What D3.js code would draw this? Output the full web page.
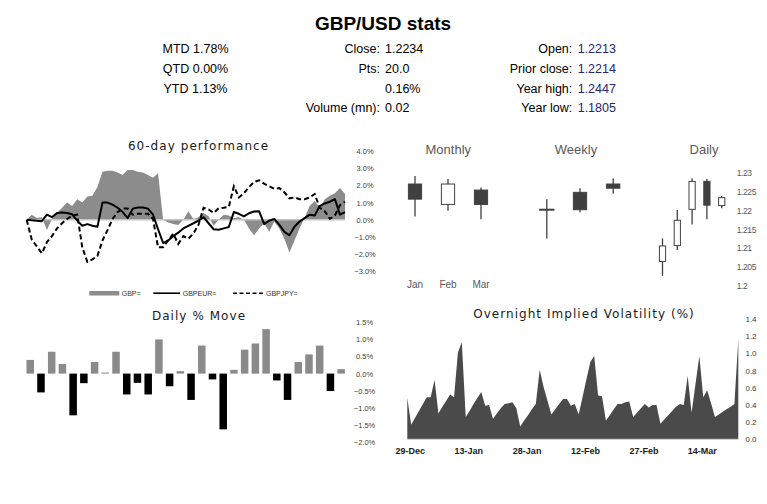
<!DOCTYPE html>
<html>
<head>
<meta charset="utf-8">
<script src="https://cdn.jsdelivr.net/npm/d3@7/dist/d3.min.js"></script>
<style>
  html, body { margin: 0; padding: 0; background: #ffffff; }
  svg { display: block; }
</style>
</head>
<body>
<svg id="chart" width="767" height="504"></svg>
<script>
// ---------------- DATA ----------------
const statsCol1 = ["MTD 1.78%", "QTD 0.00%", "YTD 1.13%"];
const statsCol2Labels = ["Close:", "Pts:", "", "Volume (mn):"];
const statsCol2Values = ["1.2234", "20.0", "0.16%", "0.02"];
const statsCol3Labels = ["Open:", "Prior close:", "Year high:", "Year low:"];
const statsCol3Values = ["1.2213", "1.2214", "1.2447", "1.1805"];

// 60-day performance (%)
const perfGBP = [0, 0.3, 0.1, 0.15, -0.6, 0.05, 0.4, 0.7, 1.0, 0.8, 1.2, 1.0, 1.35, 1.4, 1.9, 2.8,
  2.85, 2.85, 2.75, 2.6, 2.9, 2.9, 2.8, 2.75, 2.6, 2.45, 2.7, 0.0, -0.15, -0.25, -0.3, 0,
  0.5, 0.05, 0.15, 0.4, 0.2, -0.35, 0, 0.3, 0.25, 0.1, 0.15, 0, -0.5, -0.9, -0.5, -0.2,
  -0.7, -0.1, -0.5, -1.1, -1.9, -1.2, -0.5, 0.1, 0.8, 1.1, 0.7, 1.2, 1.4, 1.55, 1.85, 1.5];
const perfEUR = [0, -0.03, -0.05, -0.08, 0.3, 0.15, 0.4, 0.42, 0.4, 0.32, -0.05, -0.35, -0.25, -0.35, -0.4, 1.0,
  1.0, 0.88, 0.7, 0.45, 0.1, 0.65, 0.72, 0.72, 0.65, 0.3, -0.55, -1.35, -1.2, -0.95, -0.75, -0.5,
  -0.35, -0.2, -0.05, 0.15, -0.2, -0.55, -0.58, -0.5, -0.42, 0.45, 0.35, 0.2, 0.38, 0.48, 0.5, -0.25,
  -0.05, 0.05, -0.3, -0.7, -0.9, -0.4, -0.1, 0.1, 0.3, 0.25, 0.8, 0.95, 1.05, 1.2, 0.3, 0.45];
const perfJPY = [0, -1.15, -1.55, -1.95, -1.3, -0.95, -0.5, -0.2, 0.05, 0.25, 0.3, -1.6, -2.45, -2.3, -2.1, -1.2,
  -0.6, 0.05, 0.45, 0.65, 0.65, 0.3, 0.35, 0.35, 0.35, 0.05, -1.6, -1.6, -1.2, -0.8, -1.4, -0.95,
  -1.1, -0.8, -0.3, 0.7, 0.6, 0.4, 0.67, 0.7, 0.75, 1.95, 1.3, 1.55, 1.9, 2.2, 2.3, 2.1,
  1.95, 1.8, 1.85, 1.6, 1.25, 1.3, 1.2, 1.2, 1.3, 1.5, 0.7, 0.5, 0.05, 0.25, 0.85, 1.05];
const perfTicks = [-3, -2, -1, 0, 1, 2, 3, 4];
const perfLegend = ["GBP=", "GBPEUR=", "GBPJPY="];

// Daily % move
const dailyMove = [0.40, -0.55, 0.64, 0.28, -1.22, -0.28, 0.34, 0.03, 0.64, -0.61,
  -0.27, -0.61, 1.00, -0.37, 0.07, -0.77, 0.82, -0.17, -1.63, 0.11,
  0.70, 0.88, 1.30, -0.20, -0.77, 0.34, 0.56, 0.82, -0.51, 0.13];
const moveTicks = [-2, -1.5, -1, -0.5, 0, 0.5, 1, 1.5];

// Overnight implied volatility, daily from 29-Dec
const volStart = "2022-12-29";
const volValues = [0.48, 0.17, 0.25, 0.33, 0.41, 0.49, 0.49, 0.69, 0.30, 0.38,
  0.45, 0.52, 0.49, 1.01, 1.13, 0.26, 0.33, 0.41, 0.48, 0.55,
  0.39, 0.40, 0.24, 0.30, 0.36, 0.41, 0.42, 0.43, 0.36, 0.15,
  0.22, 0.28, 0.35, 0.41, 0.81, 0.61, 0.45, 0.29, 0.35, 0.41,
  0.47, 0.47, 0.39, 0.41, 0.29, 0.49, 0.70, 0.90, 0.97, 0.51,
  0.50, 0.22, 0.28, 0.35, 0.41, 0.41, 0.43, 0.44, 0.26, 0.31,
  0.36, 0.41, 0.37, 0.40, 0.40, 0.18, 0.23, 0.28, 0.33, 0.38,
  0.41, 0.40, 0.74, 0.31, 0.64, 0.97, 0.49, 0.57, 0.42, 0.26,
  0.29, 0.32, 0.35, 0.38, 0.41, 1.16];
const volTickDates = ["2022-12-29", "2023-01-13", "2023-01-28", "2023-02-12", "2023-02-27", "2023-03-14"];
const volTicks = [0, 0.2, 0.4, 0.6, 0.8, 1.0, 1.2, 1.4];

// Candles
const monthlyLabels = ["Jan", "Feb", "Mar"];
const monthlyOpen  = [1.2270, 1.2216, 1.2254];
const monthlyHigh  = [1.2291, 1.2283, 1.2261];
const monthlyLow   = [1.2184, 1.2199, 1.2177];
const monthlyClose = [1.2230, 1.2270, 1.2216];

const weeklyLabels = ["W1", "W2", "W3"];
const weeklyOpen  = [1.2202, 1.2248, 1.2270];
const weeklyHigh  = [1.2230, 1.2259, 1.2285];
const weeklyLow   = [1.2126, 1.2195, 1.2244];
const weeklyClose = [1.2202, 1.2202, 1.2259];

const dailyLabels = ["D1", "D2", "D3", "D4", "D5"];
const dailyOpen  = [1.2065, 1.2107, 1.2203, 1.2277, 1.2213];
const dailyHigh  = [1.2126, 1.2201, 1.2285, 1.2283, 1.2238];
const dailyLow   = [1.2027, 1.2095, 1.2163, 1.2177, 1.2206];
const dailyClose = [1.2106, 1.2174, 1.2277, 1.2214, 1.2234];

const candleTicks = [1.2, 1.205, 1.21, 1.215, 1.22, 1.225, 1.23];
const candleTickLabels = ["1.2", "1.205", "1.21", "1.215", "1.22", "1.225", "1.23"];

// ---------------- DRAW ----------------
const svg = d3.select("#chart");
const SANS = "'Liberation Sans', Arial, sans-serif";
const VERD = "'DejaVu Sans', Verdana, sans-serif";

// Header
svg.append("text").attr("x", 383).attr("y", 29.5).attr("text-anchor", "middle")
  .attr("font-family", SANS).attr("font-weight", "bold").attr("font-size", 19)
  .attr("fill", "#000").text("GBP/USD stats");

const rowY = [52.8, 72.8, 92.6, 111.8];
statsCol1.forEach((t, i) => {
  svg.append("text").attr("x", 195.5).attr("y", rowY[i]).attr("text-anchor", "middle")
    .attr("font-family", SANS).attr("font-size", 12.5).attr("fill", "#000").text(t);
});
statsCol2Labels.forEach((t, i) => {
  svg.append("text").attr("x", 380).attr("y", rowY[i]).attr("text-anchor", "end")
    .attr("font-family", SANS).attr("font-size", 12.5).attr("fill", "#000").text(t);
  svg.append("text").attr("x", 385).attr("y", rowY[i]).attr("text-anchor", "start")
    .attr("font-family", SANS).attr("font-size", 12.5).attr("fill", "#000").text(statsCol2Values[i]);
});
statsCol3Labels.forEach((t, i) => {
  svg.append("text").attr("x", 572.3).attr("y", rowY[i]).attr("text-anchor", "end")
    .attr("font-family", SANS).attr("font-size", 12.5).attr("fill", "#000").text(t);
  svg.append("text").attr("x", 577.7).attr("y", rowY[i]).attr("text-anchor", "start")
    .attr("font-family", SANS).attr("font-size", 12.5).attr("fill", "#262673").text(statsCol3Values[i]);
});

function title(txt, x, y) {
  svg.append("text").attr("x", x).attr("y", y).attr("text-anchor", "middle")
    .attr("font-family", VERD).attr("font-size", 12).attr("letter-spacing", 1.05)
    .attr("fill", "#1a1a1a").text(txt);
}

// ---- 60-day performance ----
title("60-day performance", 198.5, 149.5);
const px = d3.scaleLinear().domain([0, perfGBP.length - 1]).range([26.7, 345]);
const py = d3.scaleLinear().domain([-3, 4]).range([271.4, 151]);
const perfG = svg.append("g");
perfG.append("path").datum(perfGBP)
  .attr("d", d3.area().x((d, i) => px(i)).y0(py(0)).y1(d => py(d)))
  .attr("fill", "#8c8c8c");
perfG.append("line").attr("x1", px(0)).attr("x2", px(perfGBP.length - 1))
  .attr("y1", py(0)).attr("y2", py(0)).attr("stroke", "#c4c4c4").attr("stroke-width", 1.5);
const pline = d3.line().x((d, i) => px(i)).y(d => py(d));
perfG.append("path").datum(perfEUR).attr("d", pline).attr("fill", "none")
  .attr("stroke", "#000").attr("stroke-width", 2).attr("stroke-linejoin", "round");
perfG.append("path").datum(perfJPY).attr("d", pline).attr("fill", "none")
  .attr("stroke", "#000").attr("stroke-width", 2).attr("stroke-dasharray", "5,3");
const perfAxis = d3.axisRight(py).tickValues(perfTicks).tickSize(0).tickFormat(d3.format(".1%")).tickPadding(0);
const pa = svg.append("g").attr("transform", "translate(365,0)").call(d => {
  d.call(d3.axisRight(py).tickValues(perfTicks).tickSize(0).tickPadding(0).tickFormat(v => d3.format(".1f")(v) + "%"));
});
pa.select(".domain").remove();
pa.selectAll("text").attr("text-anchor", "middle").attr("x", 0)
  .attr("font-family", SANS).attr("font-size", 7.5).attr("fill", "#404040");

// legend
const lg = svg.append("g");
lg.append("rect").attr("x", 89.3).attr("y", 291).attr("width", 30).attr("height", 4.5).attr("fill", "#8c8c8c");
lg.append("text").attr("x", 121.7).attr("y", 295.6).attr("font-family", SANS).attr("font-size", 7).attr("fill", "#333").text(perfLegend[0]);
lg.append("line").attr("x1", 153.3).attr("x2", 180).attr("y1", 293.2).attr("y2", 293.2).attr("stroke", "#000").attr("stroke-width", 1.6);
lg.append("text").attr("x", 182.7).attr("y", 295.6).attr("font-family", SANS).attr("font-size", 7).attr("fill", "#333").text(perfLegend[1]);
lg.append("line").attr("x1", 233).attr("x2", 263).attr("y1", 293.2).attr("y2", 293.2).attr("stroke", "#000").attr("stroke-width", 1.6).attr("stroke-dasharray", "4,2.5");
lg.append("text").attr("x", 266).attr("y", 295.6).attr("font-family", SANS).attr("font-size", 7).attr("fill", "#333").text(perfLegend[2]);

// ---- Daily % Move ----
title("Daily % Move", 199, 319.5);
const mx = d3.scaleBand().domain(d3.range(dailyMove.length)).range([24.9, 346.5]).paddingInner(0.3).paddingOuter(0.15);
const my = d3.scaleLinear().domain([-2, 1.5]).range([442, 322.3]);
svg.append("g").selectAll("rect").data(dailyMove).join("rect")
  .attr("x", (d, i) => mx(i)).attr("width", mx.bandwidth())
  .attr("y", d => my(Math.max(0, d))).attr("height", d => Math.abs(my(d) - my(0)))
  .attr("fill", d => d >= 0 ? "#8a8a8a" : "#000");
const ma = svg.append("g").attr("transform", "translate(364.5,0)")
  .call(d3.axisRight(my).tickValues(moveTicks).tickSize(0).tickPadding(0).tickFormat(v => d3.format(".1f")(v) + "%"));
ma.select(".domain").remove();
ma.selectAll("text").attr("text-anchor", "middle").attr("x", 0)
  .attr("font-family", SANS).attr("font-size", 7.5).attr("fill", "#404040");

// ---- Overnight Implied Volatility ----
title("Overnight Implied Volatility (%)", 584, 318);
const parse = d3.timeParse("%Y-%m-%d");
const v0 = parse(volStart);
const volDates = volValues.map((v, i) => d3.timeDay.offset(v0, i));
const vx = d3.scaleTime().domain([volDates[0], volDates[volDates.length - 1]]).range([407.3, 738.3]);
const vy = d3.scaleLinear().domain([0, 1.4]).range([439.3, 319]);
svg.append("path").datum(volValues)
  .attr("d", d3.area().x((d, i) => vx(volDates[i])).y0(vy(0)).y1(d => vy(d)))
  .attr("fill", "#4a4a4a");
svg.append("line").attr("x1", vx(volDates[0])).attr("x2", vx(volDates[volDates.length - 1]))
  .attr("y1", vy(0)).attr("y2", vy(0)).attr("stroke", "#d0d0d0").attr("stroke-width", 1);
const vya = svg.append("g").attr("transform", "translate(751,0)")
  .call(d3.axisRight(vy).tickValues(volTicks).tickSize(0).tickPadding(0).tickFormat(d3.format(".1f")));
vya.select(".domain").remove();
vya.selectAll("text").attr("text-anchor", "middle").attr("x", 0)
  .attr("font-family", SANS).attr("font-size", 8).attr("fill", "#404040");
const vxa = svg.append("g").attr("transform", "translate(2.5,448)")
  .call(d3.axisBottom(vx).tickValues(volTickDates.map(parse)).tickSize(0).tickPadding(0).tickFormat(d3.timeFormat("%d-%b")));
vxa.select(".domain").remove();
vxa.selectAll("text").attr("dy", "0.71em").attr("font-family", SANS).attr("font-weight", "bold")
  .attr("font-size", 9).attr("fill", "#1a1a1a");

// ---- Candles ----
const cy = d3.scaleLinear().domain([1.2, 1.23]).range([286, 172.7]);
function candles(labels, o, h, l, c, range, widthFrac) {
  const sx = d3.scalePoint().domain(labels).range(range).padding(0.5);
  const w = sx.step() * widthFrac;
  const data = labels.map((k, i) => ({ k, o: o[i], h: h[i], l: l[i], c: c[i] }));
  const g = svg.append("g");
  g.selectAll("line.wick").data(data).join("line").attr("class", "wick")
    .attr("x1", d => sx(d.k)).attr("x2", d => sx(d.k))
    .attr("y1", d => cy(d.h)).attr("y2", d => cy(d.l))
    .attr("stroke", "#404040").attr("stroke-width", 1.3);
  g.selectAll("rect").data(data).join("rect")
    .attr("x", d => sx(d.k) - w / 2).attr("width", w)
    .attr("y", d => cy(Math.max(d.o, d.c)))
    .attr("height", d => Math.max(0.01, Math.abs(cy(d.o) - cy(d.c))))
    .attr("fill", d => d.c > d.o ? "#ffffff" : "#404040")
    .attr("stroke", "#404040").attr("stroke-width", d => d.c === d.o ? 2 : 1);
  return sx;
}
const msx = candles(monthlyLabels, monthlyOpen, monthlyHigh, monthlyLow, monthlyClose, [398.5, 497.5], 0.4);
candles(weeklyLabels, weeklyOpen, weeklyHigh, weeklyLow, weeklyClose, [530.2, 629.8], 0.4);
candles(dailyLabels, dailyOpen, dailyHigh, dailyLow, dailyClose, [655.1, 729.1], 0.42);

svg.append("g").selectAll("text").data(monthlyLabels).join("text")
  .attr("x", d => msx(d)).attr("y", 287.5).attr("text-anchor", "middle")
  .attr("font-family", SANS).attr("font-size", 10).attr("fill", "#595959").text(d => d);

const cya = svg.append("g").attr("transform", "translate(736.7,0)")
  .call(d3.axisRight(cy).tickValues(candleTicks).tickSize(0).tickPadding(0).tickFormat((d, i) => candleTickLabels[i]));
cya.select(".domain").remove();
cya.selectAll("text").attr("x", 0).attr("font-family", SANS).attr("font-size", 8.5)
  .attr("letter-spacing", -0.4).attr("fill", "#595959");

[["Monthly", 448.3], ["Weekly", 576], ["Daily", 704]].forEach(([t, x]) => {
  svg.append("text").attr("x", x).attr("y", 153.5).attr("text-anchor", "middle")
    .attr("font-family", SANS).attr("font-size", 13).attr("fill", "#595959").text(t);
});
</script>
</body>
</html>
